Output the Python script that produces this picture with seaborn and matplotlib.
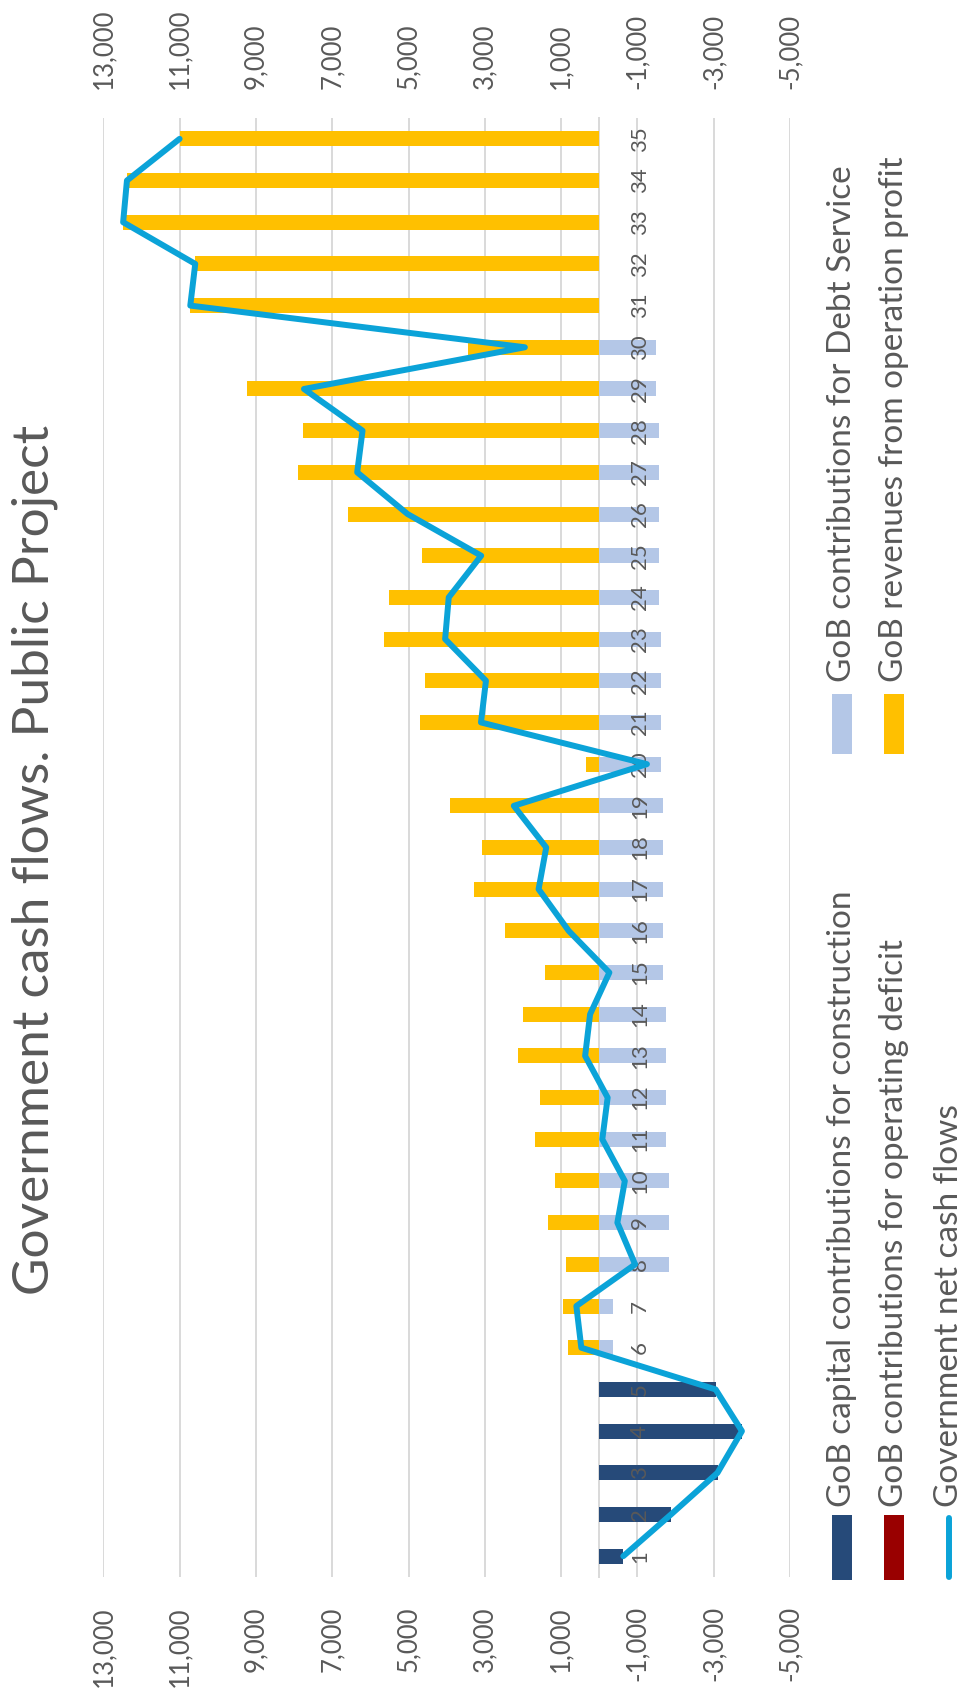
import matplotlib
matplotlib.use("Agg")
import matplotlib.pyplot as plt
from matplotlib.patches import Rectangle
from matplotlib.lines import Line2D
from matplotlib.ticker import FuncFormatter
import seaborn as sns

# Project years
years = list(range(1, 36))

# GoB capital contributions for construction (years 1-5)
capital = [-630, -1880, -3100, -3740, -3050] + [0] * 30

# GoB contributions for Debt Service (years 6-30)
debt_service = [0] * 5 + [
    -360, -360, -1820, -1820, -1820,
    -1760, -1760, -1760, -1760, -1680,
    -1680, -1680, -1680, -1680, -1610,
    -1610, -1610, -1610, -1555, -1555,
    -1555, -1555, -1555, -1490, -1490,
] + [0] * 5

# GoB contributions for operating deficit
operating_deficit = [0] * 35

# GoB revenues from operation profit (years 6-35)
revenues = [0] * 5 + [
    830, 960, 880, 1345, 1150,
    1680, 1540, 2130, 2000, 1415,
    2480, 3270, 3070, 3920, 360,
    4710, 4580, 5650, 5500, 4650,
    6580, 7900, 7760, 9230, 3440,
    10720, 10590, 12480, 12380, 11000,
]

# Government net cash flows
net_cash = [
    -630, -1880, -3100, -3740, -3050,
    470, 600, -940, -475, -670,
    -80, -220, 370, 240, -265,
    800, 1590, 1390, 2240, -1250,
    3100, 2970, 4040, 3945, 3095,
    5025, 6345, 6205, 7740, 1950,
    10720, 10590, 12480, 12380, 11000,
]

value_ticks = list(range(-5000, 14000, 2000))

title = "Government cash flows. Public Project"
legend_labels = [
    "GoB capital contributions for construction",
    "GoB contributions for operating deficit",
    "Government net cash flows",
    "GoB contributions for Debt Service",
    "GoB revenues from operation profit",
]

C_CAPITAL = "#264a79"
C_DEFICIT = "#990000"
C_DEBT = "#b4c7e7"
C_REVENUE = "#ffc000"
C_NET = "#0ba3d8"
C_TEXT = "#595959"
C_GRID = "#d9d9d9"

sns.set_style("white")
plt.rcParams["font.family"] = ["Lato", "DejaVu Sans"]

W, H = 963, 1691
fig = plt.figure(figsize=(W / 100, H / 100), dpi=100)
fig.patch.set_facecolor("white")


def fx(px):
    return px / W


def fy(py):
    return 1 - py / H


ax = fig.add_axes([fx(103.3), fy(1577), fx(790) - fx(103.3), fy(118) - fy(1577)])
# axis labels are drawn over the bars; gridlines are separate lines below them
ax.set_axisbelow(False)

for v in value_ticks:
    ax.axvline(v, color=C_GRID, linewidth=1.4, zorder=0.5)

bar_w = 0.36
for vals, col in [(revenues, C_REVENUE), (capital, C_CAPITAL),
                  (debt_service, C_DEBT), (operating_deficit, C_DEFICIT)]:
    sns.barplot(x=vals, y=years, orient="y", native_scale=True, color=col,
                saturation=1, width=bar_w, linewidth=0, ax=ax, zorder=2)

sns.lineplot(x=net_cash, y=years, orient="y", sort=False, estimator=None,
             color=C_NET, linewidth=4.3, ax=ax, zorder=4,
             solid_joinstyle="round", solid_capstyle="round")

ax.set_xlim(13000, -5000)
ax.set_ylim(0.5, 35.5)
ax.set_xlabel("")
ax.set_ylabel("")

# value axis: rotated labels on top and bottom
ax.set_xticks(value_ticks)
ax.xaxis.set_major_formatter(FuncFormatter(lambda v, p: f"{v:,.0f}"))
ax.tick_params(axis="x", length=0, top=False, bottom=False,
               labeltop=True, labelbottom=True, labelrotation=90,
               labelsize=18.5, labelcolor=C_TEXT, pad=21)
ax.grid(False)

# category axis sits on the zero line
for s in ["left", "top", "bottom"]:
    ax.spines[s].set_visible(False)
ax.spines["right"].set_position(("data", 0))
ax.spines["right"].set_color(C_GRID)
ax.spines["right"].set_linewidth(1.4)
ax.spines["right"].set_zorder(1)
ax.yaxis.tick_right()
ax.set_yticks(years, labels=[str(y) for y in years], rotation=90, va="center")
ax.tick_params(axis="y", length=0, labelsize=16, labelcolor=C_TEXT, pad=22)

# title
fig.text(fx(34.5), fy(860), title, rotation=90, ha="center", va="center",
         fontsize=37, color=C_TEXT)

# legend, drawn rotated along the right edge
leg_fs = 24
entries = [
    (842, 1515, 1580, 1507, "patch", C_CAPITAL, legend_labels[0]),
    (894, 1515, 1580, 1507, "patch", C_DEFICIT, legend_labels[1]),
    (949, 1515, 1580, 1507, "line", C_NET, legend_labels[2]),
    (842, 694, 754, 682, "patch", C_DEBT, legend_labels[3]),
    (894, 694, 754, 682, "patch", C_REVENUE, legend_labels[4]),
]
for cx, y0, y1, ty, kind, col, lab in entries:
    if kind == "patch":
        fig.add_artist(Rectangle((fx(cx - 10), fy(y1)), fx(20), fy(y0) - fy(y1),
                                 transform=fig.transFigure, facecolor=col,
                                 edgecolor="none"))
    else:
        fig.add_artist(Line2D([fx(cx), fx(cx)], [fy(y1 - 3), fy(y0 + 3)],
                              transform=fig.transFigure, color=col,
                              linewidth=4.3, solid_capstyle="round"))
    fig.text(fx(cx), fy(ty), lab, rotation=90, ha="center", va="bottom",
             fontsize=leg_fs, color=C_TEXT)

fig.savefig("out.png", dpi=100)
